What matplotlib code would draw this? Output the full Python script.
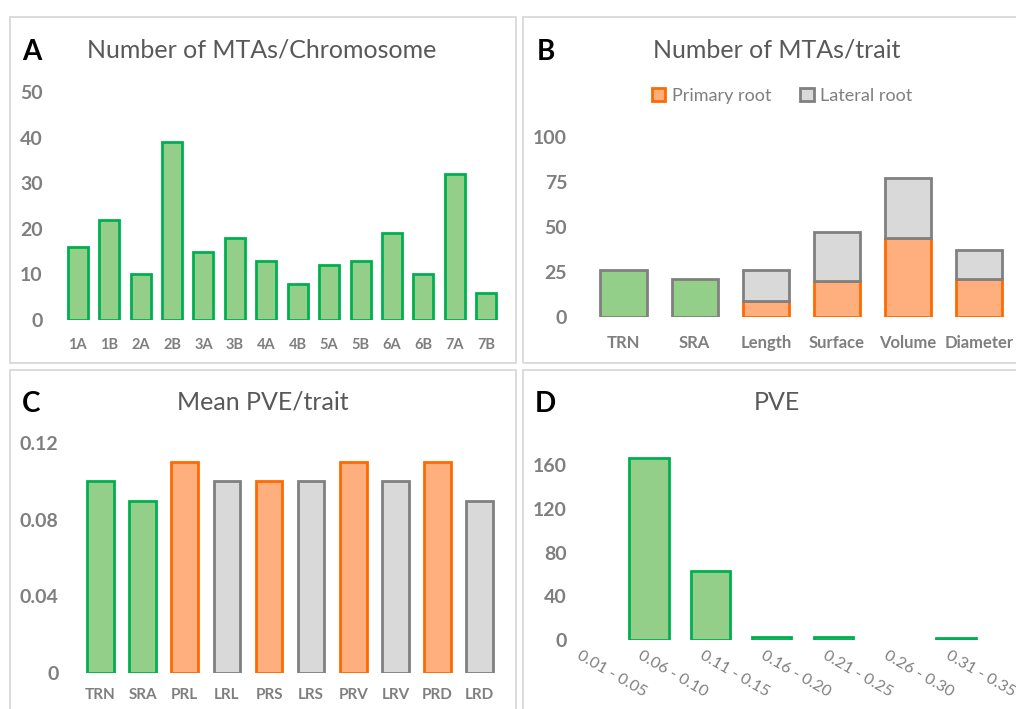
import matplotlib
matplotlib.use("Agg")
import matplotlib.pyplot as plt
from matplotlib.patches import Rectangle, Patch
import numpy as np

plt.rcParams['font.family'] = ['Lato', 'DejaVu Sans']

# ---------------- data ----------------
chromosomes = ['1A', '1B', '2A', '2B', '3A', '3B', '4A', '4B', '5A', '5B', '6A', '6B', '7A', '7B']
mtas_per_chrom = [16, 22, 10, 39, 15, 18, 13, 8, 12, 13, 19, 10, 32, 6]

traits_b = ['TRN', 'SRA', 'Length', 'Surface', 'Volume', 'Diameter']
whole_root = [26, 21, 0, 0, 0, 0]
primary_root = [0, 0, 9, 20, 44, 21]
lateral_root = [0, 0, 17, 27, 33, 16]

traits_c = ['TRN', 'SRA', 'PRL', 'LRL', 'PRS', 'LRS', 'PRV', 'LRV', 'PRD', 'LRD']
mean_pve = [0.10, 0.09, 0.11, 0.10, 0.10, 0.10, 0.11, 0.10, 0.11, 0.09]
trait_group_c = ['whole', 'whole', 'primary', 'lateral', 'primary', 'lateral',
                 'primary', 'lateral', 'primary', 'lateral']

pve_bins = ['0.01 - 0.05', '0.06 - 0.10', '0.11 - 0.15', '0.16 - 0.20',
            '0.21 - 0.25', '0.26 - 0.30', '0.31 - 0.35']
pve_counts = [166, 63, 3, 3, 0, 2, 0]

# ---------------- style ----------------
GREEN_F, GREEN_E = '#93cf89', '#00b050'
ORANGE_F, ORANGE_E = '#ffae7d', '#ff6a00'
GRAY_F, GRAY_E = '#d9d9d9', '#808080'
TICK_C = '#7f7f7f'
TITLE_C = '#595959'
LW = 2.0

W, H = 1016, 709
fig = plt.figure(figsize=(W / 100, H / 100), dpi=100)


def fx(x):
    return x / W


def fy(y):
    return 1 - y / H


def px_axes(left, top, right, bottom):
    return fig.add_axes([fx(left), fy(bottom), (right - left) / W, (bottom - top) / H])


# panel borders
for (l, t, r, b) in [(10, 17, 516, 363), (523, 17, 1030, 363),
                     (10, 370, 516, 720), (523, 370, 1030, 720)]:
    fig.patches.append(Rectangle((fx(l), fy(b)), (r - l) / W, (b - t) / H,
                                 transform=fig.transFigure, fill=False,
                                 edgecolor='#d9d9d9', linewidth=1.3))


def style_axes(ax, ytick_pad, xtick_pad, ylab_size, xlab_size):
    for s in ax.spines.values():
        s.set_visible(False)
    ax.tick_params(axis='both', length=0)
    ax.tick_params(axis='y', pad=ytick_pad, labelsize=ylab_size, labelcolor=TICK_C)
    ax.tick_params(axis='x', pad=xtick_pad, labelsize=xlab_size, labelcolor=TICK_C)
    for lab in ax.get_yticklabels():
        lab.set_fontweight('bold')
    ax.set_facecolor('none')


def add_titles(letter, lx, title, tx, base_y):
    fig.text(fx(lx), fy(base_y + 2), letter, fontsize=20, fontweight='bold',
             color='black', ha='left', va='baseline')
    fig.text(fx(tx), fy(base_y), title, fontsize=18, color=TITLE_C,
             ha='center', va='baseline')


# ---------------- Panel A ----------------
axA = px_axes(62, 92, 502, 320)
xa = np.arange(len(chromosomes))
axA.bar(xa, mtas_per_chrom, width=0.64, color=GREEN_F, edgecolor=GREEN_E, linewidth=LW)
axA.set_xlim(-0.5, len(chromosomes) - 0.5)
axA.set_ylim(0, 50)
axA.set_yticks([0, 10, 20, 30, 40, 50])
axA.set_xticks(xa)
axA.set_xticklabels(chromosomes, fontweight='bold')
style_axes(axA, 14, 13, 14, 10.5)
add_titles('A', 22, 'Number of MTAs/Chromosome', 262, 58)

# ---------------- Panel B ----------------
axB = px_axes(588, 137, 1014.6, 317)
xb = np.arange(len(traits_b))
wr = np.array(whole_root)
pr = np.array(primary_root)
lr = np.array(lateral_root)
m = wr > 0
axB.bar(xb[m], wr[m], width=0.65, color=GREEN_F, edgecolor=GRAY_E, linewidth=LW)
m = pr > 0
axB.bar(xb[m], pr[m], width=0.65, color=ORANGE_F, edgecolor=ORANGE_E, linewidth=LW)
m = lr > 0
axB.bar(xb[m], lr[m], bottom=pr[m], width=0.65, color=GRAY_F, edgecolor=GRAY_E, linewidth=LW)
axB.set_xlim(-0.5, len(traits_b) - 0.5)
axB.set_ylim(0, 100)
axB.set_yticks([0, 25, 50, 75, 100])
axB.set_xticks(xb)
axB.set_xticklabels(traits_b, fontweight='bold')
style_axes(axB, 15, 13, 14, 12)
add_titles('B', 537, 'Number of MTAs/trait', 777, 58)
handles = [Patch(facecolor=ORANGE_F, edgecolor=ORANGE_E, linewidth=LW, label='Primary root'),
           Patch(facecolor=GRAY_F, edgecolor=GRAY_E, linewidth=LW, label='Lateral root')]
fig.legend(handles=handles, loc='center', bbox_to_anchor=(fx(782), fy(96)), ncol=2,
           frameon=False, fontsize=13, labelcolor=TICK_C, handlelength=0.75,
           handleheight=0.75, handletextpad=0.35, columnspacing=1.6)

# ---------------- Panel C ----------------
axC = px_axes(79.4, 443, 500.8, 673)
xc = np.arange(len(traits_c))
fills = {'whole': GREEN_F, 'primary': ORANGE_F, 'lateral': GRAY_F}
edges = {'whole': GREEN_E, 'primary': ORANGE_E, 'lateral': GRAY_E}
axC.bar(xc, mean_pve, width=0.63, color=[fills[g] for g in trait_group_c],
        edgecolor=[edges[g] for g in trait_group_c], linewidth=LW)
axC.set_xlim(-0.5, len(traits_c) - 0.5)
axC.set_ylim(0, 0.12)
axC.set_yticks([0, 0.04, 0.08, 0.12])
axC.set_yticklabels(['0', '0.04', '0.08', '0.12'])
axC.set_xticks(xc)
axC.set_xticklabels(traits_c, fontweight='bold')
style_axes(axC, 15, 11, 14, 11)
add_titles('C', 22, 'Mean PVE/trait', 263, 410)

# ---------------- Panel D ----------------
# y range 0..180 mapped so that 0 -> 640 px and 160 -> 465 px
axD = px_axes(618.3, 640 - 180 * 175 / 160, 618.3 + 7 * 61.4, 640)
xd = np.arange(len(pve_bins))
pc = np.array(pve_counts)
m = pc > 0
axD.bar(xd[m], pc[m], width=0.64, color=GREEN_F, edgecolor=GREEN_E, linewidth=LW)
axD.set_xlim(-0.5, len(pve_bins) - 0.5)
axD.set_ylim(0, 180)
axD.set_yticks([0, 40, 80, 120, 160])
axD.set_xticks(xd)
axD.set_xticklabels(pve_bins, rotation=-30, ha='right', va='top', rotation_mode='anchor')
style_axes(axD, 37, 34, 14, 11.5)
add_titles('D', 535, 'PVE', 777, 410)

fig.savefig('out.png', dpi=100)
